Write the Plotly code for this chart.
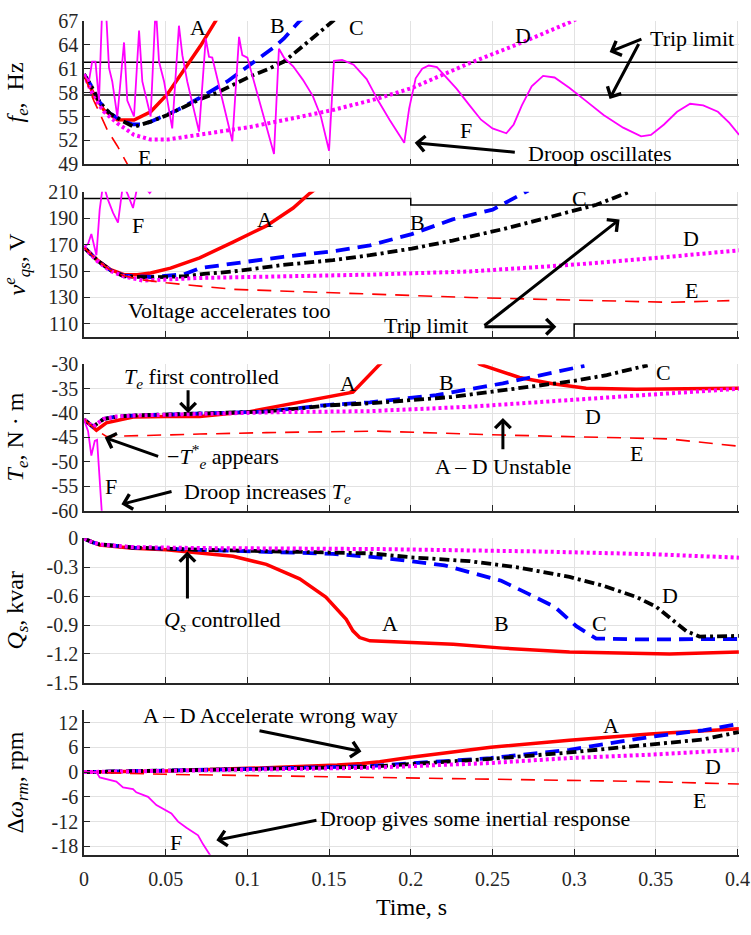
import plotly.graph_objects as go

# ---------------- Panel 1: f_e (Hz) ----------------
t1_A = [0, .006, .0122, .0204, .0306, .0408, .051, .0612, .0714, .0806, .085]
f1_A = [60.3, 57.8, 55.8, 54.6, 54.55, 55.6, 57.8, 60.9, 63.9, 67.0, 68.5]
t1_B = [0, .004, .0096, .0157, .0239, .03, .036, .0408, .057, .0714, .0877, .102, .1163, .1224, .132, .136]
f1_B = [60.3, 59.0, 56.8, 55.4, 54.4, 54.0, 54.0, 54.35, 55.8, 57.4, 59.4, 61.5, 63.7, 64.8, 67.0, 67.6]
t1_C = [0, .004, .0096, .0157, .0239, .0306, .0408, .051, .0612, .0714, .0816, .0918, .102, .1122, .1224, .132, .152, .156]
f1_C = [60.3, 59.0, 56.8, 55.4, 54.4, 53.7, 54.35, 55.2, 56.2, 57.2, 58.0, 59.0, 60.06, 60.9, 61.9, 63.5, 67.0, 67.6]
t1_D = [0, .006, .0122, .0204, .0306, .0408, .051, .0612, .0816, .102, .1224, .152, .179, .201, .236, .267, .297, .302]
f1_D = [60.3, 57.4, 55.6, 54.15, 52.7, 52.1, 52.1, 52.4, 53.1, 53.7, 54.55, 55.8, 57.2, 58.6, 61.7, 64.2, 66.8, 67.3]
t1_E = [0, .006, .0092, .0143, .0204, .0275, .032]
f1_E = [60.3, 57.0, 55.6, 53.3, 51.3, 48.8, 47.0]
t1_F = [0, .003, .005, .007, .0092, .0112, .0133, .0153, .0173, .0204, .0245, .0265, .0306, .0337,
        .0357, .0408, .0439, .0459, .049, .054, .0581, .0602, .0632, .0704, .0745, .0765, .0785,
        .0908, .0949, .0969, .1, .1163, .1193, .1224, .128, .134, .140, .145, .150, .153, .158,
        .165, .173, .18, .187, .196, .199, .203, .207, .211, .216, .221, .228, .236, .243, .250,
        .2585, .263, .268, .274, .281, .288, .297, .307, .318, .33, .341, .347, .355, .363, .371,
        .379, .388, .395, .401]
f1_F = [60.3, 59.4, 61.9, 61.9, 57.0, 69.0, 69.0, 61.1, 59.4, 55.0, 64.3, 57.0, 55.0, 65.8,
        59.4, 55.0, 69.0, 61.9, 59.4, 53.5, 66.4, 62.7, 59.4, 53.1, 64.8, 62.5, 62.4,
        51.9, 65.0, 62.7, 62.4, 50.3, 63.5, 62.4, 61.3, 59.6, 57.6, 55.0, 50.7, 62.0, 62.1,
        61.5, 59.7, 57.0, 54.6, 51.7, 56.0, 59.8, 61.0, 61.4, 61.2, 60.1, 58.5, 56.4, 54.6, 53.5,
        52.9, 54.0, 56.4, 58.8, 60.1, 59.9, 58.6, 57.0, 55.2, 53.6, 52.5, 52.7, 54.0, 55.6, 56.6,
        56.4, 55.6, 54.2, 52.7]
trip1_x = [0, 0.4]
trip1_hi = [61.8, 61.8]
trip1_lo = [57.7, 57.7]

# ---------------- Panel 2: v_qs (V) ----------------
t2_A = [0, .0082, .0163, .0245, .0326, .0408, .053, .0708, .0912, .1116, .128, .138, .145]
v2_A = [168, 158.3, 151, 147.3, 147.3, 148.5, 152.2, 160, 171.9, 184.2, 197.7, 208.7, 215]
t2_B = [0, .0082, .0163, .0245, .0408, .0612, .0708, .1218, .1524, .175, .2006, .2256, .2501, .2675, .272]
v2_B = [168, 158, 150.5, 146.5, 145.5, 147.5, 152.2, 160.8, 165.0, 169.4, 178.0, 189.1, 196.5, 207.6, 211]
t2_C = [0, .0082, .0163, .0245, .0408, .0612, .0734, .0912, .1218, .1524, .175, .2006, .2256, .2563, .2869, .3136, .334]
v2_C = [168, 158, 150.5, 146.0, 145.3, 146.0, 147.8, 149.7, 154.6, 158.3, 162.0, 167.0, 173.1, 181.7, 191.5, 200.2, 210]
t2_D = [0, .0082, .0163, .0245, .0361, .0708, .1218, .175, .236, .2971, .3583, .4008]
v2_D = [168, 157.5, 150, 146, 142.8, 144.8, 146.0, 147.3, 149.7, 154.6, 160.8, 165.7]
t2_E = [0, .0082, .0163, .0245, .035, .0504, .0912, .132, .175, .236, .2971, .3583, .395]
v2_E = [168, 158, 150.5, 146.5, 143.5, 141.1, 136.2, 134.5, 133.0, 130.0, 128.1, 126.4, 127.6]
t2_F = [0, .0025, .0045, .0076, .0096, .0117, .0147, .0178, .0208, .0239, .0269, .030, .033, .037, .0402, .044, .05, .06]
v2_F = [168, 170.6, 178, 162, 196.5, 216, 203.9, 194, 186.6, 216, 207.6, 197.7, 216, 214, 209, 216, 225, 235]
trip2_hi_x = [0, 0.2, 0.2, 0.4]
trip2_hi_y = [205, 205, 200, 200]
trip2_lo_x = [0.3, 0.3, 0.4]
trip2_lo_y = [90, 110, 110]

# ---------------- Panel 3: T_e (N m) ----------------
t3_A = [0, .0076, .0137, .03, .05, .0708, .1014, .132, .1646, .181, .186, .238, .2422, .2665, .2869, .3073, .338, .3686, .4008]
v3_A = [-41.3, -43.5, -42.0, -40.8, -40.7, -40.7, -39.7, -37.7, -35.7, -30.0, -28.5, -28.5, -30.0, -32.7, -34.0, -34.9, -35.1, -35.0, -34.9]
t3_B = [0, .0055, .012, .02, .03, .05, .07, .09, .11, .13, .15, .175, .2156, .2563, .2869, .3063]
v3_B = [-41.3, -42.8, -41.2, -40.7, -40.5, -40.3, -40.1, -40.0, -39.7, -39.0, -38.3, -37.8, -36.3, -33.9, -31.6, -30.3]
t3_C = [0, .0055, .012, .02, .03, .05, .07, .09, .11, .13, .15, .175, .20, .225, .25, .28, .30, .32, .345]
v3_C = [-41.3, -42.8, -41.2, -40.7, -40.5, -40.3, -40.1, -40.0, -39.7, -39.1, -38.4, -38.0, -37.3, -36.7, -35.6, -34.3, -33.4, -32.2, -30.2]
t3_D = [0, .0055, .012, .02, .03, .05, .07, .09, .12, .15, .175, .236, .2971, .3583, .4008]
v3_D = [-41.3, -42.8, -41.2, -40.7, -40.5, -40.3, -40.1, -40.0, -39.8, -39.7, -39.6, -38.7, -37.3, -36.0, -35.0]
t3_E = [0, .0076, .0137, .03, .0708, .1116, .1524, .179, .2563, .3176, .3583, .4008]
v3_E = [-41.3, -43.5, -44.8, -44.7, -44.3, -44.0, -43.8, -43.7, -44.5, -45.0, -45.3, -46.8]
t3_F = [0, .0025, .0045, .0066, .008, .0106, .012]
v3_F = [-41.3, -43.7, -48.7, -45.7, -45.5, -60.0, -66.0]

# ---------------- Panel 4: Q_s (kvar) ----------------
t4_A = [0, .005, .0096, .03, .0504, .0708, .0912, .1116, .132, .148, .1605, .1646, .1687, .175, .195, .226, .2564, .2972, .3584, .4008]
q4_A = [0, -.04, -.068, -.101, -.118, -.152, -.186, -.27, -.42, -.61, -.84, -.96, -1.03, -1.064, -1.08, -1.10, -1.14, -1.18, -1.20, -1.18]
t4_B = [0, .005, .0096, .03, .0708, .1116, .1524, .179, .183, .2, .2207, .238, .2554, .2717, .288, .3013, .3135, .34, .37, .4008]
q4_B = [0, -.04, -.061, -.095, -.118, -.135, -.16, -.196, -.203, -.236, -.28, -.355, -.44, -.574, -.71, -.912, -1.04, -1.05, -1.05, -1.045]
t4_C = [0, .005, .0096, .03, .0708, .1116, .1524, .175, .2, .236, .2666, .2972, .3176, .338, .3502, .3584, .3686, .3767, .4008]
q4_C = [0, -.04, -.061, -.095, -.118, -.135, -.152, -.155, -.196, -.236, -.304, -.40, -.49, -.608, -.71, -.828, -.963, -1.02, -1.013]
t4_D = [0, .005, .0096, .03, .0708, .1524, .179, .2768, .35, .4008]
q4_D = [0, -.04, -.061, -.09, -.10, -.105, -.11, -.135, -.165, -.20]

# ---------------- Panel 5: delta omega_rm (rpm) ----------------
t5_A = [0, .05, .1, .13, .155, .17, .181, .2, .249, .2971, .3461, .4008]
w5_A = [0, .27, .9, 1.3, 1.7, 2.1, 2.5, 3.6, 6.0, 7.7, 9.2, 10.5]
t5_B = [0, .05, .1, .15, .175, .249, .2971, .3461, .3788, .4008]
w5_B = [0, .3, .75, 1.2, 1.45, 3.4, 5.4, 8.5, 10.1, 11.7]
t5_C = [0, .05, .1, .15, .175, .249, .2971, .3461, .3788, .4008]
w5_C = [0, .3, .7, 1.1, 1.3, 3.2, 4.75, 6.6, 7.9, 9.7]
t5_D = [0, .05, .1, .15, .175, .249, .2971, .3461, .4008]
w5_D = [0, .3, .65, .95, 1.05, 2.2, 3.4, 4.2, 5.4]
t5_E = [0, .05, .1116, .1729, .249, .2971, .3461, .4008]
w5_E = [0, -.54, -.9, -1.25, -1.7, -1.95, -2.3, -2.9]
t5_F = [0, .0076, .0096, .0198, .0239, .03, .032, .0392, .0443, .0535, .0576, .0627, .0698, .0729, .077, .08]
w5_F = [0, 0, -1.3, -2.3, -3.7, -4.1, -4.9, -6.0, -8.0, -10.0, -12.0, -13.5, -15.3, -17.5, -20.0, -22.0]

# ---------------- Axis ticks ----------------
x_ticks = [0, 0.05, 0.1, 0.15, 0.2, 0.25, 0.3, 0.35, 0.4]
x_labels = ["0", "0.05", "0.1", "0.15", "0.2", "0.25", "0.3", "0.35", "0.4"]
y1_ticks = [49, 52, 55, 58, 61, 64, 67]
y2_ticks = [110, 130, 150, 170, 190, 210]
y3_ticks = [-60, -55, -50, -45, -40, -35, -30]
y3_labels = ["-60", "-55", "-50", "-45", "-40", "-35", "-30"]
y4_ticks = [-1.5, -1.2, -0.9, -0.6, -0.3, 0]
y4_labels = ["-1.5", "-1.2", "-0.9", "-0.6", "-0.3", "0"]
y5_ticks = [-18, -12, -6, 0, 6, 12]
y5_labels = ["-18", "-12", "-6", "0", "6", "12"]

y_titles = ["<i>f<sub>e</sub></i>,  Hz",
            "<i>v</i><sup><i>e</i></sup><sub><i>qs</i></sub>, V",
            "<i>T<sub>e</sub></i>, N · m",
            "<i>Q<sub>s</sub></i>, kvar",
            "Δ<i>ω<sub>rm</sub></i>, rpm"]

FONT = "Liberation Serif"
RED, BLUE, BLACK, MAG = "#ff0000", "#0000ff", "#000000", "#ff00ff"
STY = {
    "A": dict(color=RED, width=3.5, dash="solid"),
    "B": dict(color=BLUE, width=3.8, dash="14px,8px"),
    "C": dict(color=BLACK, width=3.8, dash="10px,4px,3px,4px"),
    "D": dict(color=MAG, width=4, dash="3px,3px"),
    "E": dict(color=RED, width=1.6, dash="14px,9px"),
    "F": dict(color=MAG, width=1.8, dash="solid"),
    "K": dict(color=BLACK, width=1.5, dash="solid"),
}

fig = go.Figure()


def add(panel, t, v, key):
    xa = "x" if panel == 1 else f"x{panel}"
    ya = "y" if panel == 1 else f"y{panel}"
    fig.add_trace(go.Scatter(x=t, y=v, mode="lines", line=STY[key], xaxis=xa, yaxis=ya,
                             showlegend=False, hoverinfo="skip"))


add(1, trip1_x, trip1_hi, "K")
add(1, trip1_x, trip1_lo, "K")
add(1, t1_A, f1_A, "A")
add(1, t1_B, f1_B, "B")
add(1, t1_C, f1_C, "C")
add(1, t1_D, f1_D, "D")
add(1, t1_E, f1_E, "E")
add(1, t1_F, f1_F, "F")

add(2, trip2_hi_x, trip2_hi_y, "K")
add(2, trip2_lo_x, trip2_lo_y, "K")
add(2, t2_A, v2_A, "A")
add(2, t2_B, v2_B, "B")
add(2, t2_C, v2_C, "C")
add(2, t2_D, v2_D, "D")
add(2, t2_E, v2_E, "E")
add(2, t2_F, v2_F, "F")

add(3, t3_A, v3_A, "A")
add(3, t3_B, v3_B, "B")
add(3, t3_C, v3_C, "C")
add(3, t3_D, v3_D, "D")
add(3, t3_E, v3_E, "E")
add(3, t3_F, v3_F, "F")

add(4, t4_A, q4_A, "A")
add(4, t4_B, q4_B, "B")
add(4, t4_C, q4_C, "C")
add(4, t4_D, q4_D, "D")

add(5, t5_A, w5_A, "A")
add(5, t5_B, w5_B, "B")
add(5, t5_C, w5_C, "C")
add(5, t5_D, w5_D, "D")
add(5, t5_E, w5_E, "E")
add(5, t5_F, w5_F, "F")

H = 935.0
pix = [(10, 157), (185, 334), (361.7, 511.7), (540, 688), (716, 864)]
domains = [[(H - b) / H, (H - t) / H] for (t, b) in pix]
ranges = [[49, 67.02], [100, 210.1], [-60.01, -29.97], [-1.5005, 0.0015], [-20, 15]]
yticks = [(y1_ticks, [str(v) for v in y1_ticks]), (y2_ticks, [str(v) for v in y2_ticks]),
          (y3_ticks, y3_labels), (y4_ticks, y4_labels), (y5_ticks, y5_labels)]

AXC = "#262626"
GRIDC = "#e2e2e2"
layout = dict(
    width=751, height=935,
    margin=dict(l=84, r=12, t=0, b=0),
    paper_bgcolor="white", plot_bgcolor="white",
    font=dict(family=FONT, size=20, color="#262626"),
    showlegend=False,
)
for i in range(5):
    sfx = "" if i == 0 else str(i + 1)
    layout["xaxis" + sfx] = dict(
        domain=[0, 1], anchor="y" + sfx, range=[0, 0.4009],
        tickvals=x_ticks, ticktext=x_labels, showticklabels=(i == 4),
        ticks="inside", ticklen=6, tickwidth=1.2, tickcolor=AXC,
        showline=True, linecolor=AXC, linewidth=1.6,
        showgrid=True, gridcolor=GRIDC, gridwidth=1.2, zeroline=False,
        tickfont=dict(family=FONT, size=20, color="#262626"),
        ticklabelstandoff=6, ticklabeloverflow="allow",
    )
    layout["yaxis" + sfx] = dict(
        domain=domains[i], anchor="x" + sfx, range=ranges[i],
        tickvals=yticks[i][0], ticktext=yticks[i][1],
        ticks="inside", ticklen=6, tickwidth=1.2, tickcolor=AXC,
        showline=True, linecolor=AXC, linewidth=1.6,
        showgrid=True, gridcolor=GRIDC, gridwidth=1.2, zeroline=False,
        tickfont=dict(family=FONT, size=20, color="#262626"),
        ticklabeloverflow="allow",
    )
fig.update_layout(**layout)

ann = []


def ref(p):
    return ("x", "y") if p == 1 else (f"x{p}", f"y{p}")


def label(p, x, y, text, size=22):
    xr, yr = ref(p)
    ann.append(dict(x=x, y=y, xref=xr, yref=yr, text=text, showarrow=False,
                    font=dict(family=FONT, size=size, color="black"),
                    xanchor="center", yanchor="middle"))


def arrow(p, x0, y0, x1, y1):
    xr, yr = ref(p)
    ann.append(dict(x=x1, y=y1, ax=x0, ay=y0, xref=xr, yref=yr, axref=xr, ayref=yr,
                    text="", showarrow=True, arrowhead=4, arrowsize=1, arrowwidth=3,
                    arrowcolor="black", standoff=0, startstandoff=0))


# y titles
for i, ttl in enumerate(y_titles):
    ann.append(dict(x=(17 - 84) / 655.0, y=sum(domains[i]) / 2, xref="paper", yref="paper",
                    text=ttl, textangle=-90, showarrow=False,
                    font=dict(family=FONT, size=24, color="black"),
                    xanchor="center", yanchor="middle"))
ann.append(dict(x=(411 - 84) / 655.0, y=(H - 918) / H, xref="paper", yref="paper",
                text="Time, s", showarrow=False, font=dict(family=FONT, size=24, color="black"),
                xanchor="center", yanchor="middle"))

# panel 1
label(1, .0698, 66.2, "A"); label(1, .1187, 66.4, "B"); label(1, .1667, 66.2, "C")
label(1, .2687, 65.2, "D"); label(1, .0371, 49.9, "E"); label(1, .234, 53.3, "F")
label(1, .372, 64.8, "Trip limit")
arrow(1, .3421, 64.8, .3217, 63.1)
arrow(1, .34, 64.3, .3217, 57.2)
label(1, .3161, 50.3, "Droop oscillates")
arrow(1, .2646, 50.5, .2024, 51.7)

# panel 2
label(2, .033, 184.2, "F"); label(2, .1106, 189.1, "A"); label(2, .2044, 186.6, "B")
label(2, .3034, 205, "C"); label(2, .3717, 174.3, "D"); label(2, .3717, 135, "E")
label(2, .0889, 120.2, "Voltage accelerates too")
label(2, .2095, 109.1, "Trip limit")
arrow(2, .2442, 107.9, .2891, 107.9)
arrow(2, .2442, 107.9, .3278, 189.1)

# panel 3
label(3, .1616, -34, "A"); label(3, .2218, -33.7, "B"); label(3, .3544, -31.7, "C")
label(3, .3115, -40.7, "D"); label(3, .3381, -48.3, "E"); label(3, .0168, -55, "F")
label(3, .0718, -32.9, "<i>T<sub>e</sub></i> first controlled")
arrow(3, .0637, -35, .0637, -40)
label(3, .0851, -49, "−<i>T</i><sup>*</sup><sub><i>e</i></sub> appears")
arrow(3, .0463, -49, .0127, -45)
label(3, .1126, -56.3, "Droop increases <i>T<sub>e</sub></i>")
arrow(3, .0545, -56, .0229, -58.7)
label(3, .2564, -50.9, "A – D Unstable")
arrow(3, .2564, -47.7, .2564, -41)

# panel 4
label(4, .1871, -.88, "A"); label(4, .2554, -.88, "B"); label(4, .3156, -.88, "C")
label(4, .3584, -.59, "D")
label(4, .0846, -.86, "<i>Q<sub>s</sub></i> controlled")
arrow(4, .0633, -.64, .0633, -.135)

# panel 5
label(5, .3228, 11.3, "A"); label(5, .385, 1.45, "D"); label(5, .3768, -6.8, "E")
label(5, .0565, -17.1, "F")
label(5, .1141, 13.65, "A – D Accelerate wrong way")
arrow(5, .1065, 10.1, .1698, 5.0)
label(5, .2391, -11.2, "Droop gives some inertial response")
arrow(5, .1432, -11.6, .081, -16.5)

fig.update_layout(annotations=ann)
fig.write_html("out.html")
